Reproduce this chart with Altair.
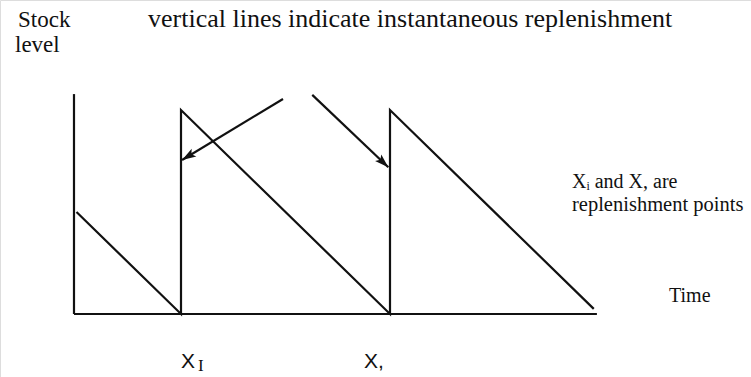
import altair as alt
import pandas as pd

# Sawtooth stock profile: (time, stock level) vertices
stock_time = [0, 5, 5, 15, 15, 24.75]
stock_level = [50, 0, 100, 0, 100, 2.5]

# Axis extents in data units
axis_time_start = -0.12
axis_time_end = 24.9
axis_level_top = 107.8

# Arrows pointing at the replenishment (vertical) lines
arrow_from_time = [9.88, 11.28]
arrow_from_level = [105.4, 107.4]
arrow_to_time = [5.05, 14.92]
arrow_to_level = [75.5, 71.9]
arrow_angle = [238.7, 133.5]

W, H = 751, 377
# x: 20.9 px per time unit, t=0 at 76.5 px; y: 2.04 px per stock unit, 0 at 314 px
x_scale = alt.Scale(domain=[-76.5 / 20.9, (W - 76.5) / 20.9], nice=False, zero=False)
y_scale = alt.Scale(domain=[(314 - H) / 2.04, 314 / 2.04], nice=False, zero=False)

INK = "#111111"

profile = pd.DataFrame({"t": stock_time, "s": stock_level, "o": range(len(stock_time))})
saw = alt.Chart(profile).mark_line(color=INK, strokeWidth=2.2, strokeJoin="miter").encode(
    x=alt.X("t:Q", scale=x_scale, axis=None),
    y=alt.Y("s:Q", scale=y_scale, axis=None),
    order="o:Q",
)

axes_df = pd.DataFrame({
    "t": [axis_time_start, axis_time_start],
    "s": [0, 0],
    "t2": [axis_time_start, axis_time_end],
    "s2": [axis_level_top, 0],
})
axes = alt.Chart(axes_df).mark_rule(color=INK, strokeWidth=2.2).encode(
    x=alt.X("t:Q", scale=x_scale, axis=None),
    y=alt.Y("s:Q", scale=y_scale, axis=None),
    x2="t2:Q",
    y2="s2:Q",
)

arrows_df = pd.DataFrame({
    "t": arrow_from_time,
    "s": arrow_from_level,
    "t2": arrow_to_time,
    "s2": arrow_to_level,
    "angle": arrow_angle,
})
shafts = alt.Chart(arrows_df).mark_rule(color=INK, strokeWidth=2.2).encode(
    x=alt.X("t:Q", scale=x_scale, axis=None),
    y=alt.Y("s:Q", scale=y_scale, axis=None),
    x2="t2:Q",
    y2="s2:Q",
)
heads = alt.Chart(arrows_df).mark_point(
    shape="M0,0L-0.45,1.4L0,1.1L0.45,1.4Z", filled=True, color=INK, opacity=1, size=400, strokeWidth=0
).encode(
    x=alt.X("t2:Q", scale=x_scale, axis=None),
    y=alt.Y("s2:Q", scale=y_scale, axis=None),
    angle=alt.Angle("angle:Q", scale=None),
)


def label(text, x, y, size, font="Liberation Serif"):
    return alt.Chart(pd.DataFrame({"a": [0]})).mark_text(
        text=text, font=font, fontSize=size, align="left", baseline="alphabetic", color=INK
    ).encode(x=alt.value(x), y=alt.value(y))


texts = [
    label("Stock", 18, 27, 23),
    label("level", 15, 52, 23),
    label("vertical lines indicate instantaneous replenishment", 148, 27, 26),
    label("X\u1d62 and X, are", 572, 188, 20),
    label("replenishment points", 572, 211, 20.5),
    label("Time", 669, 302, 20),
    label("X", 181, 368, 21, "Liberation Sans"),
    label("I", 198, 371, 17),
    label("X,", 364, 368, 21, "Liberation Sans"),
]

chart = alt.layer(axes, saw, shafts, heads, *texts).properties(
    width=W,
    height=H,
    padding=0,
    autosize=alt.AutoSizeParams(type="fit", contains="padding"),
).configure_view(stroke=None).configure(background="white")

chart.save("out.html", embed_options={"renderer": "svg", "actions": False})
